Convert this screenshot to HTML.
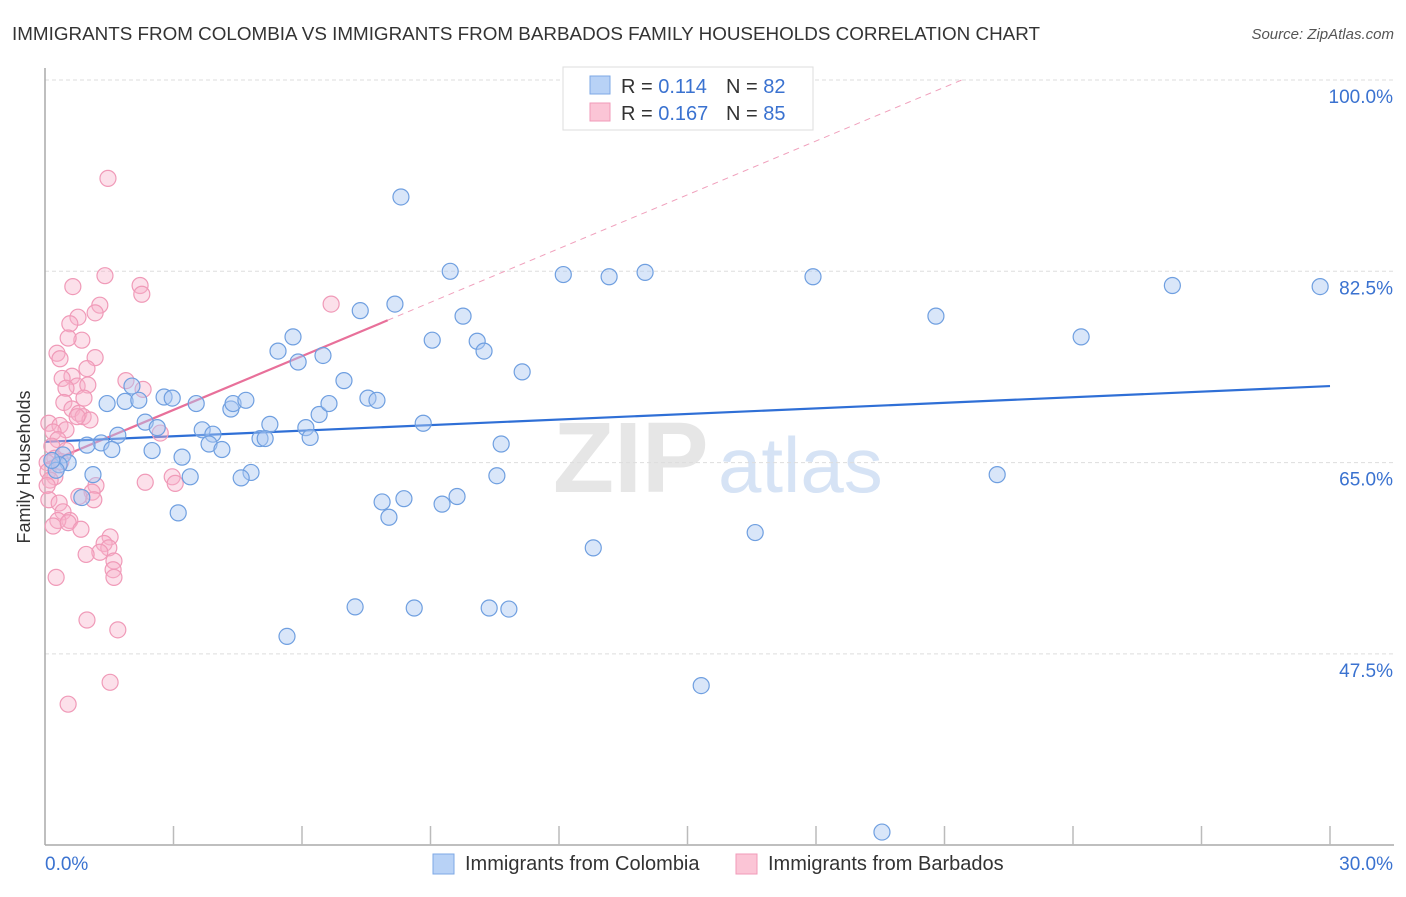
<!DOCTYPE html>
<html><head><meta charset="utf-8"><style>
body{margin:0;background:#fff;font-family:"Liberation Sans",sans-serif;}
svg text{font-family:"Liberation Sans",sans-serif;}
</style></head><body>
<svg id="chart" width="1406" height="892" viewBox="0 0 1406 892" xmlns="http://www.w3.org/2000/svg">
<text x="12" y="40" font-size="18" fill="#333" textLength="1028" lengthAdjust="spacingAndGlyphs">IMMIGRANTS FROM COLOMBIA VS IMMIGRANTS FROM BARBADOS FAMILY HOUSEHOLDS CORRELATION CHART</text>
<text x="1394" y="39" font-size="15" fill="#555" font-style="italic" text-anchor="end">Source: ZipAtlas.com</text>
<g><text x="553" y="492" font-size="100" fill="#e6e6e6" font-family="Liberation Serif" font-weight="bold">ZIP</text><text x="718" y="492" font-size="78" fill="#d6e3f5">atlas</text></g>
<g id="grid"></g>
<g id="axes"></g>
<g id="trend"></g>
<g id="pts"></g>
<text x="18" y="455" font-size="18" fill="#333" transform="rotate(-90 30 455)" text-anchor="middle">Family Households</text>
<g>
<rect x="563" y="67" width="250" height="63" fill="#fff" stroke="#ddd"/>
<rect x="590" y="76" width="20" height="18" fill="#b8d2f6" stroke="#7ea8e6"/>
<rect x="590" y="103" width="20" height="18" fill="#fbc5d6" stroke="#f09ab8"/>
<text x="621" y="93" font-size="20" fill="#333">R = <tspan fill="#3a72d0">0.114</tspan><tspan x="726">N = </tspan><tspan fill="#3a72d0">82</tspan></text>
<text x="621" y="120" font-size="20" fill="#333">R = <tspan fill="#3a72d0">0.167</tspan><tspan x="726">N = </tspan><tspan fill="#3a72d0">85</tspan></text>
</g>
<g>
<rect x="433" y="854" width="21" height="20" fill="#b8d2f6" stroke="#7ea8e6"/>
<text x="465" y="870" font-size="20" fill="#333">Immigrants from Colombia</text>
<rect x="736" y="854" width="21" height="20" fill="#fbc5d6" stroke="#f09ab8"/>
<text x="768" y="870" font-size="20" fill="#333">Immigrants from Barbados</text>
</g>
</svg>
<script>
const yTicks=[100,82.5,65,47.5];
const yTickLabels=["100.0%","82.5%","65.0%","47.5%"];
const xTickLabels=["0.0%","30.0%"];
const colombiaX=[8.31,9.46,12.10,13.17,14.01,17.93,26.32,29.77,20.80,24.19,9.76,8.17,7.36,5.79,5.44,5.91,6.49,9.04,10.09,10.25,11.14,6.98,2.03,1.45,1.87,2.19,2.78,2.97,3.53,4.34,4.39,4.69,7.54,7.75,6.40,6.63,2.34,5.25,6.09,6.19,5.02,5.14,3.67,3.92,3.83,4.13,2.62,2.50,1.70,1.31,0.98,1.56,8.83,10.65,0.42,0.54,0.33,0.26,0.16,3.20,1.12,4.81,4.58,3.39,0.86,3.11,7.87,8.38,8.03,9.27,9.62,10.55,22.23,16.58,12.80,7.24,8.62,10.37,10.83,5.65,15.32,19.54];
const colombiaY=[89.3,82.5,82.2,82.0,82.4,82.0,81.2,81.1,78.4,76.5,78.4,79.5,78.9,76.5,75.2,74.2,74.8,76.2,76.1,75.2,73.3,72.5,72.0,70.4,70.6,70.7,71.0,70.9,70.4,69.9,70.4,70.7,70.9,70.7,69.4,70.4,68.7,68.5,68.2,67.3,67.2,67.2,68.0,67.6,66.7,66.2,68.2,66.1,67.5,66.8,66.6,66.2,68.6,66.7,65.7,65.0,64.8,64.3,65.2,65.5,63.9,64.1,63.6,63.7,61.8,60.4,61.4,61.7,60.0,61.2,61.9,63.8,63.9,58.6,57.2,51.8,51.7,51.7,51.6,49.1,44.6,31.2];
const barbadosX=[1.47,1.40,2.22,0.65,2.26,1.28,1.17,0.77,0.58,6.68,0.86,0.54,0.28,0.35,1.17,0.98,0.63,0.40,1.89,0.75,1.00,0.49,0.91,0.44,0.63,0.79,0.89,1.05,0.09,0.35,0.49,0.75,2.69,0.19,0.30,0.16,0.49,0.23,0.05,0.37,0.07,0.23,0.12,0.05,1.19,1.10,0.79,1.14,0.09,0.33,0.42,0.58,0.30,0.54,0.84,0.19,1.52,1.38,1.49,1.28,0.96,1.61,1.59,1.61,0.26,0.98,1.70,1.52,0.54,2.34,2.97,2.29,3.04];
const barbadosY=[91.0,82.1,81.2,81.1,80.4,79.4,78.7,78.3,77.7,79.5,76.2,76.4,75.0,74.5,74.6,73.6,72.9,72.7,72.5,72.0,72.1,71.8,70.9,70.5,69.9,69.5,69.2,68.9,68.6,68.4,68.0,69.2,67.7,67.8,67.1,66.5,66.1,65.4,65.0,65.1,64.2,63.7,63.4,62.9,62.9,62.3,61.9,61.6,61.6,61.3,60.5,59.7,59.7,59.5,58.9,59.2,58.2,57.6,57.2,56.8,56.6,56.0,55.2,54.5,54.5,50.6,49.7,44.9,42.9,63.2,63.7,71.7,63.1];
const colombiaTrend=[66.9,72.0];   // y at x=0 and x=30
const barbadosTrend=[64.9,1.64];   // intercept, slope per x%
const X0=45,X1=1330,Y100=80,PXPER=191.3/17.5;
const sx=v=>X0+(v/30)*(X1-X0);
const sy=v=>Y100+(100-v)*PXPER;
const NS="http://www.w3.org/2000/svg";
function mk(tag,attrs,parent){const e=document.createElementNS(NS,tag);for(const k in attrs)e.setAttribute(k,attrs[k]);parent.appendChild(e);return e;}
const grid=document.getElementById('grid'),axes=document.getElementById('axes'),trend=document.getElementById('trend'),pts=document.getElementById('pts');
yTicks.forEach((t,i)=>{
 const l=mk('line',{x1:X0,x2:1394,y1:sy(t),y2:sy(t),stroke:'#ddd','stroke-dasharray':'4,3'},grid);
 
 
 const tx=mk('text',{x:1393,y:sy(t)+23,'font-size':19,fill:'#3a72d0','text-anchor':'end'},axes);
 tx.textContent=yTickLabels[i];
 
 
});
mk('line',{x1:X0,x2:X0,y1:68,y2:845,stroke:'#aaa','stroke-width':1.5},axes);
mk('line',{x1:X0,x2:1394,y1:845,y2:845,stroke:'#aaa','stroke-width':1.5},axes);
for(let k=1;k<=10;k++){const x=sx(k*3);mk('line',{x1:x,x2:x,y1:826,y2:845,stroke:'#bbb','stroke-width':1.5},axes);}
const xl0=mk('text',{x:45,y:870,'font-size':19,fill:'#3a72d0'},axes);xl0.textContent=xTickLabels[0];


const xl1=mk('text',{x:1393,y:870,'font-size':19,fill:'#3a72d0','text-anchor':'end'},axes);xl1.textContent=xTickLabels[1];


const bxEnd=(100-barbadosTrend[0])/barbadosTrend[1];
const pd=mk('line',{x1:sx(8),y1:sy(barbadosTrend[0]+barbadosTrend[1]*8),x2:sx(bxEnd),y2:sy(100),stroke:'#f0a0bc','stroke-width':1,'stroke-dasharray':'6,5'},trend);


const ps=mk('line',{x1:sx(0),y1:sy(barbadosTrend[0]),x2:sx(8),y2:sy(barbadosTrend[0]+barbadosTrend[1]*8),stroke:'#e8709a','stroke-width':2.2},trend);


const bl=mk('line',{x1:sx(0),y1:sy(colombiaTrend[0]),x2:sx(30),y2:sy(colombiaTrend[1]),stroke:'#2f6fd6','stroke-width':2.2},trend);


barbadosX.forEach((x,i)=>{
 const c=mk('circle',{cx:sx(x),cy:sy(barbadosY[i]),r:8,fill:'rgba(248,178,202,0.4)',stroke:'#f09ab8','stroke-width':1.2},pts);
 
 
});
colombiaX.forEach((x,i)=>{
 const c=mk('circle',{cx:sx(x),cy:sy(colombiaY[i]),r:8,fill:'rgba(170,200,242,0.45)',stroke:'#6f9fe0','stroke-width':1.2},pts);
 
 
});
</script>
</body></html>
